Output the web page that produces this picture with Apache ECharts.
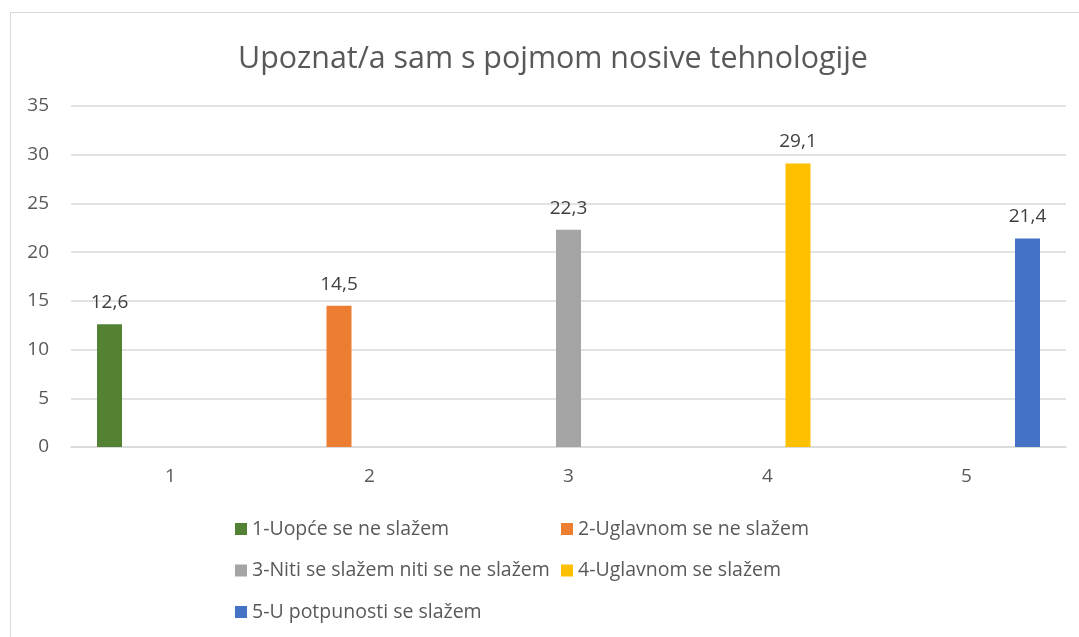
<!DOCTYPE html>
<html>
<head>
<meta charset="utf-8">
<script src="https://cdn.jsdelivr.net/npm/echarts@6/dist/echarts.min.js"></script>
<style>
  html, body { margin: 0; padding: 0; background: #fff; }
  #frame {
    position: absolute; left: 10px; top: 12px; width: 1100px; height: 700px;
    border: 1px solid #d9d9d9; box-sizing: border-box;
  }
  #chart { position: absolute; left: 0; top: 0; width: 1079px; height: 637px; }
</style>
</head>
<body>
<div id="frame"></div>
<div id="chart"></div>
<script>
const titleText = "Upoznat/a sam s pojmom nosive tehnologije";
const categories = ["1", "2", "3", "4", "5"];
const seriesNames = [
  "1-Uopće se ne slažem",
  "2-Uglavnom se ne slažem",
  "3-Niti se slažem niti se ne slažem",
  "4-Uglavnom se slažem",
  "5-U potpunosti se slažem",
];
// one answer per category, each series only has its own category filled
const values = [12.6, 14.5, 22.3, 29.1, 21.4];
const colors = ["#548235", "#ED7D31", "#A5A5A5", "#FFC000", "#4472C4"];

const font = "'Open Sans', sans-serif";

const chart = echarts.init(document.getElementById("chart"));

const series = seriesNames.map((name, i) => ({
  name: name,
  type: "bar",
  data: categories.map((c, j) => (j === i ? values[i] : null)),
  barWidth: 25,
  barGap: "22%",
  itemStyle: { color: colors[i] },
  label: {
    show: true,
    position: "top",
    distance: 12,
    color: "#404040",
    fontFamily: font,
    fontSize: 19,
    formatter: (p) => String(p.value).replace(".", ","),
  },
}));

const legendText = { color: "#595959", fontFamily: font, fontSize: 19.5 };

const option = {
  animation: false,
  title: {
    text: titleText,
    left: 233,
    top: 39,
    textStyle: { color: "#595959", fontFamily: font, fontSize: 30.4, fontWeight: "normal" },
  },
  grid: { left: 71, right: 13, top: 106, bottom: 190 },
  legend: [
    {
      data: [seriesNames[0], seriesNames[2], seriesNames[4]],
      orient: "vertical",
      left: 230,
      top: 514,
      itemWidth: 12,
      itemHeight: 12,
      itemGap: 21.5,
      icon: "rect",
      textStyle: legendText,
    },
    {
      data: [seriesNames[1], seriesNames[3]],
      orient: "vertical",
      left: 556,
      top: 514,
      itemWidth: 12,
      itemHeight: 12,
      itemGap: 21.5,
      icon: "rect",
      textStyle: legendText,
    },
  ],
  xAxis: {
    type: "category",
    data: categories,
    axisTick: { show: false },
    axisLine: { lineStyle: { color: "#d9d9d9", width: 1.5 } },
    axisLabel: { color: "#595959", fontFamily: font, fontSize: 19, margin: 20 },
  },
  yAxis: {
    type: "value",
    min: 0,
    max: 35,
    interval: 5,
    axisLine: { show: false },
    axisTick: { show: false },
    axisLabel: { color: "#595959", fontFamily: font, fontSize: 19, margin: 22 },
    splitLine: { lineStyle: { color: "#d9d9d9", width: 1.5 } },
  },
  series: series,
};

chart.setOption(option);
</script>
</body>
</html>
